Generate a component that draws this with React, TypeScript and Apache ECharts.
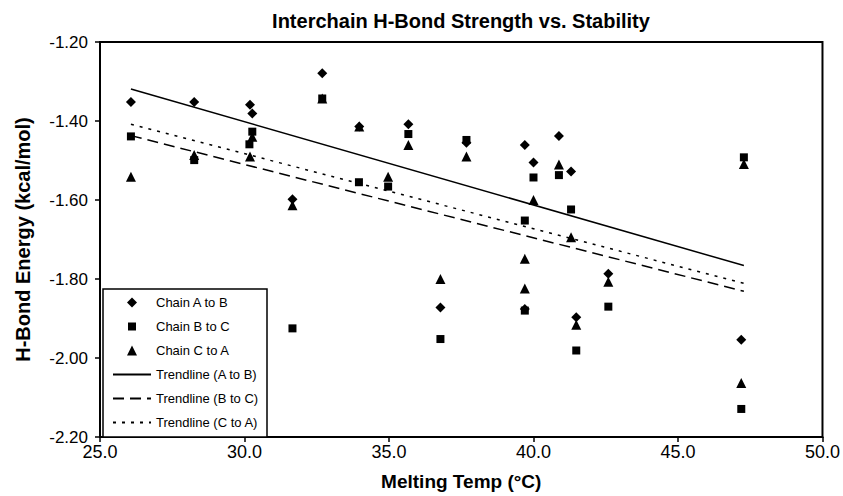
import React, { useEffect, useRef } from "react";
import * as echarts from "echarts";

const chainAB: [number, number][] = [
  [26.07, -1.352], [28.26, -1.352], [30.19, -1.359], [30.27, -1.381], [31.66, -1.598],
  [32.69, -1.279], [33.97, -1.414], [35.67, -1.408], [36.78, -1.872], [37.68, -1.455],
  [39.7, -1.461], [39.7, -1.876], [40.0, -1.505], [40.88, -1.438], [41.3, -1.528],
  [41.48, -1.897], [42.59, -1.787], [47.19, -1.954],
];
const chainBC: [number, number][] = [
  [26.07, -1.439], [28.26, -1.499], [30.27, -1.427], [30.17, -1.459], [31.66, -1.925],
  [32.69, -1.343], [33.96, -1.555], [34.97, -1.566], [35.67, -1.433], [36.78, -1.952],
  [37.68, -1.448], [39.7, -1.652], [39.7, -1.88], [40.0, -1.543], [40.88, -1.537],
  [41.3, -1.624], [41.48, -1.981], [42.59, -1.87], [47.28, -1.492], [47.19, -2.129],
];
const chainCA: [number, number][] = [
  [26.07, -1.541], [28.26, -1.486], [30.27, -1.44], [30.19, -1.49], [31.66, -1.613],
  [32.69, -1.343], [33.97, -1.414], [34.97, -1.541], [35.67, -1.461], [36.78, -1.8],
  [37.68, -1.49], [39.7, -1.749], [39.7, -1.824], [40.0, -1.6], [40.88, -1.51],
  [41.3, -1.694], [41.48, -1.916], [42.59, -1.807], [47.28, -1.509], [47.19, -2.063],
];
const trendAB: [number, number][] = [[26.07, -1.319], [47.28, -1.766]];
const trendBC: [number, number][] = [[26.07, -1.437], [47.28, -1.831]];
const trendCA: [number, number][] = [[26.07, -1.408], [47.28, -1.811]];

const FONT = "Liberation Sans, Arial, sans-serif";
const hidden = { color: "rgba(0,0,0,0)", borderWidth: 0 };

export default function App() {
  const ref = useRef<HTMLDivElement>(null);
  useEffect(() => {
    if (!ref.current) return;
    const chart = echarts.init(ref.current, undefined, { renderer: "svg" });
    chart.setOption({
      animation: false,
      backgroundColor: "#fff",
      textStyle: { fontFamily: FONT, color: "#000" },
      graphic: [
        {
          type: "text",
          x: 461,
          y: 21,
          style: {
            text: "Interchain H-Bond Strength vs. Stability",
            textAlign: "center",
            textVerticalAlign: "middle",
            fontFamily: FONT,
            fontWeight: "bold",
            fontSize: 20,
            fill: "#000",
          },
        },
        {
          type: "rect",
          shape: { x: 103, y: 289, width: 164, height: 148 },
          style: { fill: "#fff", stroke: "#000", lineWidth: 1.5 },
          z: 5,
        },
      ],
      grid: {
        left: 100,
        right: 20,
        top: 42,
        bottom: 59,
        show: true,
        borderColor: "#000",
        borderWidth: 2,
      },
      legend: {
        orient: "vertical",
        left: 112,
        top: 296,
        padding: 0,
        itemWidth: 38,
        itemHeight: 10,
        itemGap: 11,
        z: 10,
        textStyle: { fontFamily: FONT, fontSize: 13, color: "#000" },
        data: [
          { name: "Chain A to B", icon: "path://M5,0L10,5L5,10L0,5Z" },
          { name: "Chain B to C", icon: "path://M0,0M10,10M1,1L9,1L9,9L1,9Z" },
          { name: "Chain C to A", icon: "path://M5,0L10,10L0,10Z" },
          { name: "Trendline (A to B)", itemStyle: hidden },
          { name: "Trendline (B to C)", itemStyle: hidden },
          { name: "Trendline (C to A)", itemStyle: hidden },
        ],
      },
      xAxis: {
        type: "value",
        min: 25,
        max: 50,
        interval: 5,
        name: "Melting Temp (°C)",
        nameLocation: "middle",
        nameGap: 35,
        nameTextStyle: { fontFamily: FONT, fontWeight: "bold", fontSize: 19, color: "#000" },
        axisLine: { show: true, lineStyle: { color: "#000", width: 2 } },
        axisTick: { show: true, length: 5, lineStyle: { color: "#000", width: 1.5 } },
        axisLabel: {
          fontFamily: FONT,
          fontSize: 18,
          color: "#000",
          margin: 6,
          formatter: (v: number) => v.toFixed(1),
        },
        splitLine: { show: false },
      },
      yAxis: {
        type: "value",
        min: -2.2,
        max: -1.2,
        interval: 0.2,
        name: "H-Bond Energy (kcal/mol)",
        nameLocation: "middle",
        nameGap: 67,
        nameTextStyle: { fontFamily: FONT, fontWeight: "bold", fontSize: 20, color: "#000" },
        axisLine: { show: true, lineStyle: { color: "#000", width: 2 } },
        axisTick: { show: true, length: 5, lineStyle: { color: "#000", width: 1.5 } },
        axisLabel: {
          fontFamily: FONT,
          fontSize: 17,
          color: "#000",
          margin: 12,
          formatter: (v: number) => v.toFixed(2),
        },
        splitLine: { show: false },
      },
      series: [
        {
          name: "Trendline (A to B)",
          type: "line",
          data: trendAB,
          symbol: "none",
          lineStyle: { color: "#000", width: 1.5, type: "solid" },
          itemStyle: { color: "#000" },
          z: 2,
        },
        {
          name: "Trendline (B to C)",
          type: "line",
          data: trendBC,
          symbol: "none",
          lineStyle: { color: "#000", width: 1.5, type: [11, 6] },
          itemStyle: { color: "#000" },
          z: 2,
        },
        {
          name: "Trendline (C to A)",
          type: "line",
          data: trendCA,
          symbol: "none",
          lineStyle: { color: "#000", width: 1.5, type: [3, 6] },
          itemStyle: { color: "#000" },
          z: 2,
        },
        {
          name: "Chain A to B",
          type: "scatter",
          data: chainAB,
          symbol: "diamond",
          symbolSize: 10,
          itemStyle: { color: "#000", opacity: 1 },
          z: 3,
        },
        {
          name: "Chain B to C",
          type: "scatter",
          data: chainBC,
          symbol: "rect",
          symbolSize: 8,
          itemStyle: { color: "#000", opacity: 1 },
          z: 3,
        },
        {
          name: "Chain C to A",
          type: "scatter",
          data: chainCA,
          symbol: "triangle",
          symbolSize: 10,
          itemStyle: { color: "#000", opacity: 1 },
          z: 3,
        },
      ],
    });
    return () => chart.dispose();
  }, []);
  return <div ref={ref} style={{ width: 843, height: 496, position: "absolute", left: 0, top: 0 }} />;
}
